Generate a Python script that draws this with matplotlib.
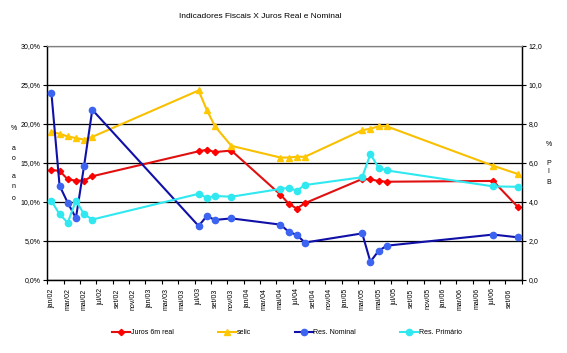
import numpy as np
import matplotlib
matplotlib.use("Agg")
import matplotlib.pyplot as plt
from matplotlib.ticker import FixedLocator, FuncFormatter

plt.rcParams['font.family'] = ['Liberation Sans', 'DejaVu Sans']

# meses das observacoes (ano, mes)
datas = [(2002, 1), (2002, 2), (2002, 3), (2002, 4), (2002, 5), (2002, 6),
         (2003, 7), (2003, 8), (2003, 9), (2003, 11),
         (2004, 5), (2004, 6), (2004, 7), (2004, 8),
         (2005, 3), (2005, 4), (2005, 5), (2005, 6),
         (2006, 7), (2006, 10)]

# eixo esquerdo (% a.a.)
juros_real = [14.1, 14.0, 12.9, 12.75, 12.75, 13.3,
              16.5, 16.7, 16.4, 16.6,
              10.95, 9.8, 9.15, 9.85,
              12.95, 12.9, 12.7, 12.6,
              12.7, 9.4]
selic = [19.0, 18.75, 18.4, 18.2, 18.0, 18.35,
         24.3, 21.8, 19.7, 17.2,
         15.7, 15.7, 15.8, 15.8,
         19.2, 19.4, 19.7, 19.7,
         14.65, 13.6]

# eixo direito (% PIB)
res_nominal = [9.6, 4.84, 3.96, 3.18, 5.86, 8.73,
               2.77, 3.28, 3.08, 3.16,
               2.84, 2.48, 2.31, 1.92,
               2.39, 0.94, 1.49, 1.76,
               2.33, 2.19]
res_primario = [4.06, 3.37, 2.94, 4.07, 3.37, 3.1,
                4.42, 4.22, 4.31, 4.27,
                4.67, 4.73, 4.58, 4.87,
                5.27, 6.46, 5.76, 5.62,
                4.8, 4.78]

nomes_mes = ["jan", "fev", "mar", "abr", "mai", "jun",
             "jul", "ago", "set", "out", "nov", "dez"]
n_meses = 58  # jan/02 .. out/06

x = np.array([(a - 2002) * 12 + m - 1 for a, m in datas])

fig = plt.figure(figsize=(5.67, 3.53), dpi=100)
ax = fig.add_axes([47.3 / 567, 1 - 280 / 353, (521.7 - 47.3) / 567, 234 / 353])
ax2 = ax.twinx()

ax.plot(x, juros_real, color="#E01010", lw=1.5, marker="D", ms=3.2,
        mfc="#FF0000", mec="#FF0000", label="Juros 6m real", zorder=3)
ax.plot(x, selic, color="#F8C000", lw=1.5, marker="^", ms=4.2,
        mfc="#FFC800", mec="#FFC800", label="selic", zorder=3)
ax2.plot(x, res_nominal, color="#1010A8", lw=1.5, marker="o", ms=4.5,
         mfc="#3C64F0", mec="#3C64F0", label="Res. Nominal", zorder=3)
ax2.plot(x, res_primario, color="#30E8F0", lw=1.5, marker="o", ms=4.5,
         mfc="#30E8F0", mec="#30E8F0", label="Res. Primário", zorder=3)

ax.set_xlim(-0.5, n_meses - 0.5)
ax.set_ylim(0, 30)
ax2.set_ylim(0, 12)

ax.set_yticks(np.arange(0, 31, 5))
ax2.set_yticks(np.arange(0, 13, 2))
ax.yaxis.set_major_formatter(FuncFormatter(lambda v, p: f"{v:.1f}%".replace(".", ",")))
ax2.yaxis.set_major_formatter(FuncFormatter(lambda v, p: f"{v:.1f}".replace(".", ",")))

# ticks entre categorias, rotulos a cada 2 meses
ax.xaxis.set_major_locator(FixedLocator(np.arange(-0.5, n_meses, 2)))
ax.xaxis.set_major_formatter(FuncFormatter(lambda v, p: ""))
pos_rot = np.arange(0, n_meses - 1, 2)
ax.xaxis.set_minor_locator(FixedLocator(pos_rot))
ax.set_xticklabels([f"{nomes_mes[m % 12]}/{2 + m // 12:02d}" for m in pos_rot],
                   minor=True, rotation=90, fontsize=5)
ax.tick_params(axis="x", which="minor", length=0, pad=6)
ax.tick_params(axis="x", which="major", length=3, width=0.8, direction="out")
ax.tick_params(axis="y", labelsize=5, length=3, width=0.8, pad=2)
ax2.tick_params(axis="y", labelsize=5, length=3, width=0.8, pad=2)

ax.yaxis.grid(True, color="black", lw=0.9)
ax.set_axisbelow(True)
for a in (ax, ax2):
    a.spines["top"].set_color("#808080")
    a.spines["left"].set_linewidth(0.9)
    a.spines["right"].set_linewidth(0.9)
    a.spines["bottom"].set_linewidth(0.9)

fig.text(260 / 567, 1 - 17 / 353, "Indicadores Fiscais X Juros Real e Nominal",
         ha="center", va="center", fontsize=6)

# rotulos verticais empilhados
for ch, yp in [("%", 129), ("a", 148), ("o", 158), ("a", 177), ("n", 187), ("o", 198)]:
    fig.text(13.5 / 567, 1 - yp / 353, ch, ha="center", va="center", fontsize=5)
for ch, yp in [("%", 144), ("P", 163), ("I", 172), ("B", 182)]:
    fig.text(548.5 / 567, 1 - yp / 353, ch, ha="center", va="center", fontsize=5)

h1, l1 = ax.get_legend_handles_labels()
h2, l2 = ax2.get_legend_handles_labels()
fig.legend(h1 + h2, l1 + l2, loc="center", bbox_to_anchor=(287 / 567, 1 - 333 / 353),
           ncol=4, frameon=False, fontsize=5, handlelength=2.6, handletextpad=0.1,
           columnspacing=6.3)

fig.savefig("out.png", dpi=100)
